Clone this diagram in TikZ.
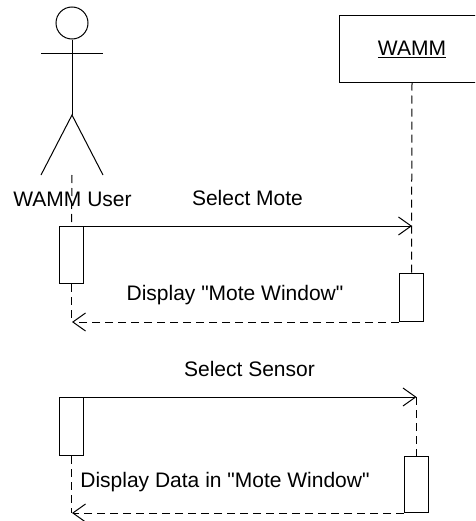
\documentclass[tikz,border=0pt]{standalone}
\usepackage{fontspec}
\setmainfont{Liberation Sans}[Ligatures=TeXOff]
\usetikzlibrary{arrows.meta}

\tikzset{every picture/.style={line width=0.75pt}}
\tikzset{
  lbl/.style={anchor=base,inner sep=0pt,font=\fontsize{15.75}{19}\selectfont},
  actbox/.style={draw,anchor=north west,inner sep=0pt,minimum width=18pt},
  msg/.style={-{Straight Barb[length=9.5pt,width=13.5pt]}},
  reply/.style={msg,dash pattern=on 6pt off 3.75pt},
  lifeline/.style={dash pattern=on 6pt off 3.75pt}
}

\begin{document}
\begin{tikzpicture}[x=0.75pt,y=0.75pt,yscale=-1,xscale=1]
	\path[use as bounding box] (0,0) rectangle (475,521);
	\clip (0,0) rectangle (475,521);

	%Shape: Actor
	\draw (72,23) node[draw,circle,inner sep=0pt,minimum size=24pt] (head) {};
	\coordinate (hip) at (72,115);
	\coordinate (foot) at (72,175);
	\draw (head.south) -- (hip) ;
	\draw (41,53) -- (103,53) ;
	\draw (41,175) -- (hip) -- (103,175) ;

	%Shape: Object box
	\draw (412,48.5) node[draw,inner sep=0pt,minimum width=109.5pt,minimum height=50.25pt] (wamm) {};
	% Text Node
	\draw (412,55) node[lbl] (wammlbl) {\underline{WAMM}};
	% Text Node
	\draw (72.5,206) node[lbl] (user) {WAMM User};

	%Shape: Activation boxes
	\draw (59,226) node[actbox,minimum height=42.75pt] (act1) {};
	\draw (399,273) node[actbox,minimum height=36pt] (act2) {};
	\draw (59,397) node[actbox,minimum height=43.5pt] (act3) {};
	\draw (404,456) node[actbox,minimum height=42pt] (act4) {};

	%Lifelines
	\draw[lifeline] (foot) -- (act1.north) ;
	\draw[lifeline] (act1.south) -- (act1.south |- act2.south) ;
	\draw[lifeline] (wamm.south) -- (act2.north) ;
	\draw[lifeline] (act4.north |- act3.north) -- (act4.north) ;
	\draw[lifeline] (act3.south) -- (act3.south |- act4.south) ;

	%Messages
	\draw[msg] (act1.north east) -- (act1.north east -| wamm.south) ;
	\draw[reply] (act2.south west) -- (act2.south west -| foot) ;
	\draw[msg] (act3.north east) -- (act3.north east -| act4.north) ;
	\draw[reply] (act4.south west) -- (act4.south west -| foot) ;

	% Text Node
	\draw (247.5,205) node[lbl] (selmote) {Select Mote};
	% Text Node
	\draw (235,300) node[lbl] (dispmote) {Display "Mote Window"};
	% Text Node
	\draw (249.5,376) node[lbl] (selsens) {Select Sensor};
	% Text Node
	\draw (225,487) node[lbl] (dispdata) {Display Data in "Mote Window"};

\end{tikzpicture}
\end{document}
